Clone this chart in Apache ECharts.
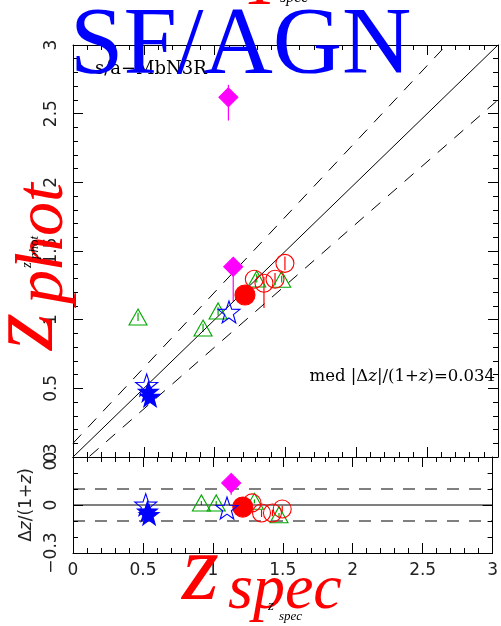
<!DOCTYPE html>
<html>
<head>
<meta charset="utf-8">
<script src="https://cdn.jsdelivr.net/npm/echarts@6/dist/echarts.min.js"></script>
<style>
  html, body { margin: 0; padding: 0; background: #fff; }
  #chart { width: 501px; height: 626px; }
</style>
</head>
<body>
<div id="chart"></div>
<script>
// ---- photometric vs spectroscopic redshift: [z_spec, z_phot] ----
const magentaDiamonds = [[1.097, 2.619], [1.131, 1.386]];
const redFilledCircles = [[1.214, 1.180]];
const redOpenCircles = [[1.280, 1.294], [1.348, 1.265], [1.426, 1.294], [1.496, 1.410]];
const greenTriangles = [[0.459, 1.019], [0.918, 0.939], [1.024, 1.063], [1.297, 1.296], [1.473, 1.294]];
const blueOpenStars = [[0.520, 0.524], [1.101, 1.056]];
const blueFilledStars = [[0.532, 0.476], [0.544, 0.439]];

// vertical error bars: [z_spec, low, high]
const magentaErr = [[1.097, 2.45, 2.71], [1.131, 1.13, 1.386]];
const redErr = [[1.348, 1.085, 1.31], [1.426, 1.25, 1.34], [1.496, 1.36, 1.46]];
const greenErr = [[0.459, 0.99, 1.05], [0.918, 0.91, 0.97], [1.024, 1.03, 1.09], [1.297, 1.27, 1.33], [1.473, 1.27, 1.32]];

// ---- residuals: [z_spec, dz/(1+z)] ----
const dzMagentaDiamonds = [[1.131, 0.138]];
const dzRedFilledCircles = [[1.214, -0.013]];
const dzRedOpenCircles = [[1.280, 0.013], [1.348, -0.050], [1.426, -0.050], [1.496, -0.025]];
const dzGreenTriangles = [[0.918, 0.013], [1.024, 0.013], [1.297, 0.023], [1.473, -0.061]];
const dzBlueOpenStars = [[0.520, 0.002], [1.101, -0.019]];
const dzBlueFilledStars = [[0.532, -0.040], [0.544, -0.061]];

const dzMagentaErr = [[1.131, 0.064, 0.138]];
const dzRedErr = [[1.348, -0.075, -0.030], [1.426, -0.070, -0.030], [1.496, -0.045, -0.005]];
const dzGreenErr = [[0.918, 0.0, 0.025], [1.024, 0.0, 0.025], [1.297, 0.010, 0.035], [1.473, -0.075, -0.050]];

// axes
const zRange = [0, 3];
const zTickStep = 0.5;
const dzRange = [-0.3, 0.3];
const dzTickStep = 0.3;
const outlierFrac = 0.1;          // |dz|/(1+z) outlier limit
const medianText = 'med |Δ{i|z}|/(1+{i|z})=0.034';
const sampleText = 's/a−MbN3R';

const STAR = 'path://M0,-10L2.35,-3.24L9.51,-3.09L3.8,1.24L5.88,8.09L0,4L-5.88,8.09L-3.8,1.24L-9.51,-3.09L-2.35,-3.24Z';
const C = { magenta: '#ff00ff', red: '#ff0000', green: '#00a800', blue: '#0000ff' };
const NONE = 'rgba(0,0,0,0)';

const chart = echarts.init(document.getElementById('chart'), null, { renderer: 'canvas' });

function frameAxis(extra) {
  return Object.assign({
    type: 'value',
    axisLine: { show: true, onZero: false, lineStyle: { color: '#000', width: 1 } },
    axisTick: { show: true, inside: true, length: 10, lineStyle: { color: '#000' } },
    minorTick: { show: true, splitNumber: 5, length: 5, lineStyle: { color: '#000' } },
    splitLine: { show: false },
    minorSplitLine: { show: false },
    axisLabel: { show: false }
  }, extra);
}
const tickFont = { fontFamily: 'DejaVu Sans', fontSize: 17, color: '#222' };

function errSeries(data, color, xi, yi) {
  return {
    type: 'custom', xAxisIndex: xi, yAxisIndex: yi, data: data, z: 1,
    encode: { x: 0, y: [1, 2] },
    itemStyle: { color: color },
    renderItem: function (params, api) {
      const a = api.coord([api.value(0), api.value(1)]);
      const b = api.coord([api.value(0), api.value(2)]);
      return { type: 'line', shape: { x1: a[0], y1: a[1], x2: b[0], y2: b[1] },
               style: { stroke: color, lineWidth: 1.2 } };
    }
  };
}
function scat(data, xi, yi, symbol, size, fill, stroke) {
  return {
    type: 'scatter', xAxisIndex: xi, yAxisIndex: yi, data: data, z: 3,
    symbol: symbol, symbolSize: size, silent: true,
    itemStyle: { color: fill, borderColor: stroke, borderWidth: 1.1, opacity: 1 }
  };
}
function refLine(data, xi, yi, dashed) {
  return {
    type: 'line', xAxisIndex: xi, yAxisIndex: yi, data: data, z: 2, clip: true,
    symbol: 'none', silent: true,
    lineStyle: { color: '#000', width: 1, type: dashed ? [12, 10] : 'solid' }
  };
}
const z0 = zRange[0], z1 = zRange[1];
const upper = (z) => z + outlierFrac * (1 + z);
const lower = (z) => z - outlierFrac * (1 + z);

const option = {
  animation: false,
  backgroundColor: '#fff',
  grid: [
    { left: 73, top: 45, right: 3, height: 412 },
    { left: 73, top: 457, right: 3, height: 96 }
  ],
  xAxis: [
    frameAxis({ gridIndex: 0, position: 'bottom', min: z0, max: z1, interval: zTickStep }),
    frameAxis({ gridIndex: 1, position: 'bottom', min: z0, max: z1, interval: zTickStep,
      axisLabel: Object.assign({ show: true, margin: 9 }, tickFont) }),
    frameAxis({ gridIndex: 0, position: 'top', min: z0, max: z1, interval: zTickStep }),
    frameAxis({ gridIndex: 1, position: 'top', min: z0, max: z1, interval: zTickStep })
  ],
  yAxis: [
    frameAxis({ gridIndex: 0, position: 'left', min: z0, max: z1, interval: zTickStep,
      axisLabel: Object.assign({ show: true, rotate: 90, margin: 13 }, tickFont) }),
    frameAxis({ gridIndex: 1, position: 'left', min: dzRange[0], max: dzRange[1], interval: dzTickStep,
      minorTick: { show: true, splitNumber: 3, length: 5, lineStyle: { color: '#000' } },
      axisLabel: Object.assign({ show: true, rotate: 90, margin: 13,
        formatter: (v) => (Math.abs(v) < 1e-9 ? '0' : (v < 0 ? '−' : '') + Math.abs(v).toFixed(1)) }, tickFont) }),
    frameAxis({ gridIndex: 0, position: 'right', min: z0, max: z1, interval: zTickStep }),
    frameAxis({ gridIndex: 1, position: 'right', min: dzRange[0], max: dzRange[1], interval: dzTickStep,
      minorTick: { show: true, splitNumber: 3, length: 5, lineStyle: { color: '#000' } } })
  ],
  series: [
    // one-to-one relation and outlier limits
    refLine([[z0, z0], [z1, z1]], 0, 0, false),
    refLine([[z0, upper(z0)], [z1, upper(z1)]], 0, 0, true),
    refLine([[z0, lower(z0)], [z1, lower(z1)]], 0, 0, true),
    refLine([[z0, 0], [z1, 0]], 1, 1, false),
    refLine([[z0, outlierFrac], [z1, outlierFrac]], 1, 1, true),
    refLine([[z0, -outlierFrac], [z1, -outlierFrac]], 1, 1, true),

    errSeries(magentaErr, C.magenta, 0, 0),
    errSeries(redErr, C.red, 0, 0),
    errSeries(greenErr, C.green, 0, 0),
    errSeries(dzMagentaErr, C.magenta, 1, 1),
    errSeries(dzRedErr, C.red, 1, 1),
    errSeries(dzGreenErr, C.green, 1, 1),

    scat(greenTriangles, 0, 0, 'triangle', [18, 16], NONE, C.green),
    scat(redOpenCircles, 0, 0, 'circle', 18, NONE, C.red),
    scat(redFilledCircles, 0, 0, 'circle', 20, C.red, C.red),
    scat(blueOpenStars, 0, 0, STAR, 22, NONE, C.blue),
    scat(blueFilledStars, 0, 0, STAR, 20, C.blue, C.blue),
    scat(magentaDiamonds, 0, 0, 'diamond', 19, C.magenta, C.magenta),

    scat(dzGreenTriangles, 1, 1, 'triangle', [18, 16], NONE, C.green),
    scat(dzRedOpenCircles, 1, 1, 'circle', 18, NONE, C.red),
    scat(dzRedFilledCircles, 1, 1, 'circle', 20, C.red, C.red),
    scat(dzBlueOpenStars, 1, 1, STAR, 22, NONE, C.blue),
    scat(dzBlueFilledStars, 1, 1, STAR, 20, C.blue, C.blue),
    scat(dzMagentaDiamonds, 1, 1, 'diamond', 19, C.magenta, C.magenta)
  ],
  graphic: [
    // panel annotations
    { type: 'text', left: 95, top: 60, z: 10, silent: true,
      style: { text: sampleText, font: '18px "DejaVu Serif"', fill: '#000' } },
    { type: 'text', right: 6, top: 368, z: 10, silent: true,
      style: { text: medianText, font: '16.5px "DejaVu Serif"', fill: '#000',
        rich: { i: { font: 'italic 16.5px "DejaVu Serif"', fill: '#000' } } } },
    // residual axis name
    { type: 'text', x: 27, y: 505, rotation: Math.PI / 2, z: 10, silent: true,
      style: { text: 'Δ{i|z}/(1+{i|z})', font: '17px "DejaVu Sans"', fill: '#222', align: 'center', verticalAlign: 'middle',
        rich: { i: { font: 'italic 17px "DejaVu Sans"', fill: '#222' } } } },
    // large overlay titles
    { type: 'text', x: 70, y: 48, z: 20, silent: true,
      style: { text: 'SF/AGN', font: '96px "Liberation Serif"', fill: '#0000ff', align: 'left', verticalAlign: 'middle' } },
    { type: 'text', x: 262, y: -14, z: 20, silent: true,
      style: { text: 'T', font: 'italic 70px "Liberation Serif"', fill: '#ff0000', align: 'center', verticalAlign: 'middle' } },
    { type: 'text', x: 280, y: -2, z: 20, silent: true,
      style: { text: 'spec', font: 'italic 16px "Liberation Serif"', fill: '#000', align: 'left', verticalAlign: 'middle' } },
    { type: 'text', x: 182, y: 574, z: 20, silent: true,
      style: { text: 'z', font: 'italic 95px "Liberation Serif"', fill: '#ff0000', align: 'left', verticalAlign: 'middle' } },
    { type: 'text', x: 228, y: 591, z: 20, silent: true,
      style: { text: 'spec', font: 'italic 64px "Liberation Serif"', fill: '#ff0000', align: 'left', verticalAlign: 'middle' } },
    { type: 'text', x: 27, y: 350, rotation: Math.PI / 2, z: 20, silent: true,
      style: { text: 'z', font: 'italic 95px "Liberation Serif"', fill: '#ff0000', align: 'left', verticalAlign: 'middle' } },
    { type: 'text', x: 44, y: 304, rotation: Math.PI / 2, z: 20, silent: true,
      style: { text: 'phot', font: 'italic 68px "Liberation Serif"', fill: '#ff0000', align: 'left', verticalAlign: 'middle' } },
    // small axis names, drawn over the large titles
    { type: 'text', x: 268, y: 606, z: 30, silent: true,
      style: { text: 'z', font: 'italic 15px "Liberation Serif"', fill: '#000', align: 'left', verticalAlign: 'middle' } },
    { type: 'text', x: 279, y: 617, z: 30, silent: true,
      style: { text: 'spec', font: 'italic 13px "Liberation Serif"', fill: '#000', align: 'left', verticalAlign: 'middle' } },
    { type: 'text', x: 27, y: 268, rotation: Math.PI / 2, z: 30, silent: true,
      style: { text: 'z', font: 'italic 15px "Liberation Serif"', fill: '#000', align: 'left', verticalAlign: 'middle' } },
    { type: 'text', x: 35, y: 259, rotation: Math.PI / 2, z: 30, silent: true,
      style: { text: 'phot', font: 'italic 13px "Liberation Serif"', fill: '#000', align: 'left', verticalAlign: 'middle' } }
  ]
};
chart.setOption(option);
</script>
</body>
</html>
